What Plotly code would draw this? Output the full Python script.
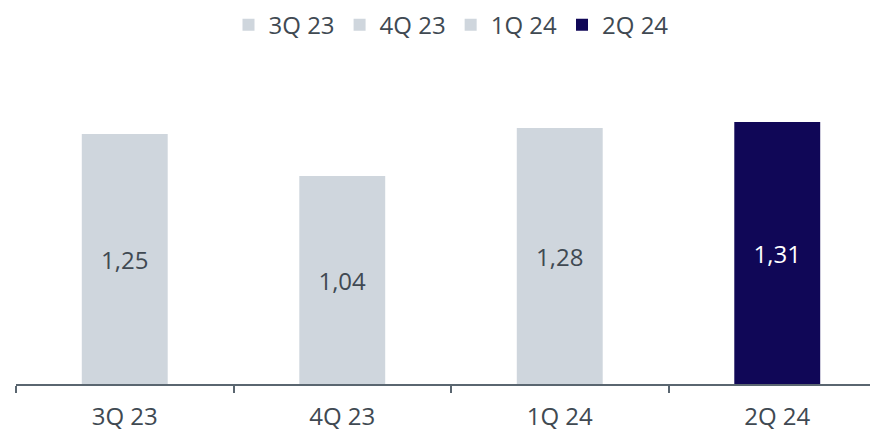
import plotly.graph_objects as go

categories = ["3Q 23", "4Q 23", "1Q 24", "2Q 24"]
values = [1.25, 1.04, 1.28, 1.31]
labels = ["1,25", "1,04", "1,28", "1,31"]
colors = ["#cfd6dd", "#cfd6dd", "#cfd6dd", "#100757"]
text_colors = ["#404952", "#404952", "#404952", "#ffffff"]

FONT = "Open Sans"

fig = go.Figure()
for c, v, l, col, tc in zip(categories, values, labels, colors, text_colors):
    fig.add_trace(go.Bar(
        x=[c], y=[v], name=c, marker=dict(color=col, line=dict(width=0)),
        text=[l], textposition="inside", insidetextanchor="middle",
        textfont=dict(color=tc, size=24, family=FONT),
        width=0.395, hoverinfo="skip",
    ))

fig.update_layout(
    width=878, height=431,
    margin=dict(l=8, r=0, t=52, b=55, autoexpand=False),
    plot_bgcolor="white", paper_bgcolor="white",
    barmode="overlay",
    showlegend=True,
    legend=dict(orientation="h", x=0.5, xanchor="center", y=0.96, yanchor="middle",
                yref="container", font=dict(size=24, color="#404952", family=FONT),
                itemwidth=30, traceorder="normal"),
    font=dict(family=FONT, color="#404952"),
    uniformtext=dict(minsize=8, mode="show"),
)
fig.update_xaxes(
    type="category", range=[-0.5, 3.5], showline=True, linecolor="#5a6670", linewidth=1.5,
    ticks="outside", tickson="boundaries", ticklen=7, tickcolor="#5a6670", tickwidth=1.5,
    ticklabelstandoff=10,
    tickfont=dict(size=24, color="#404952", family=FONT), showgrid=False, automargin=False,
)
fig.update_yaxes(range=[0, 1.62], visible=False, showgrid=False, automargin=False)

fig.write_html("out.html")
